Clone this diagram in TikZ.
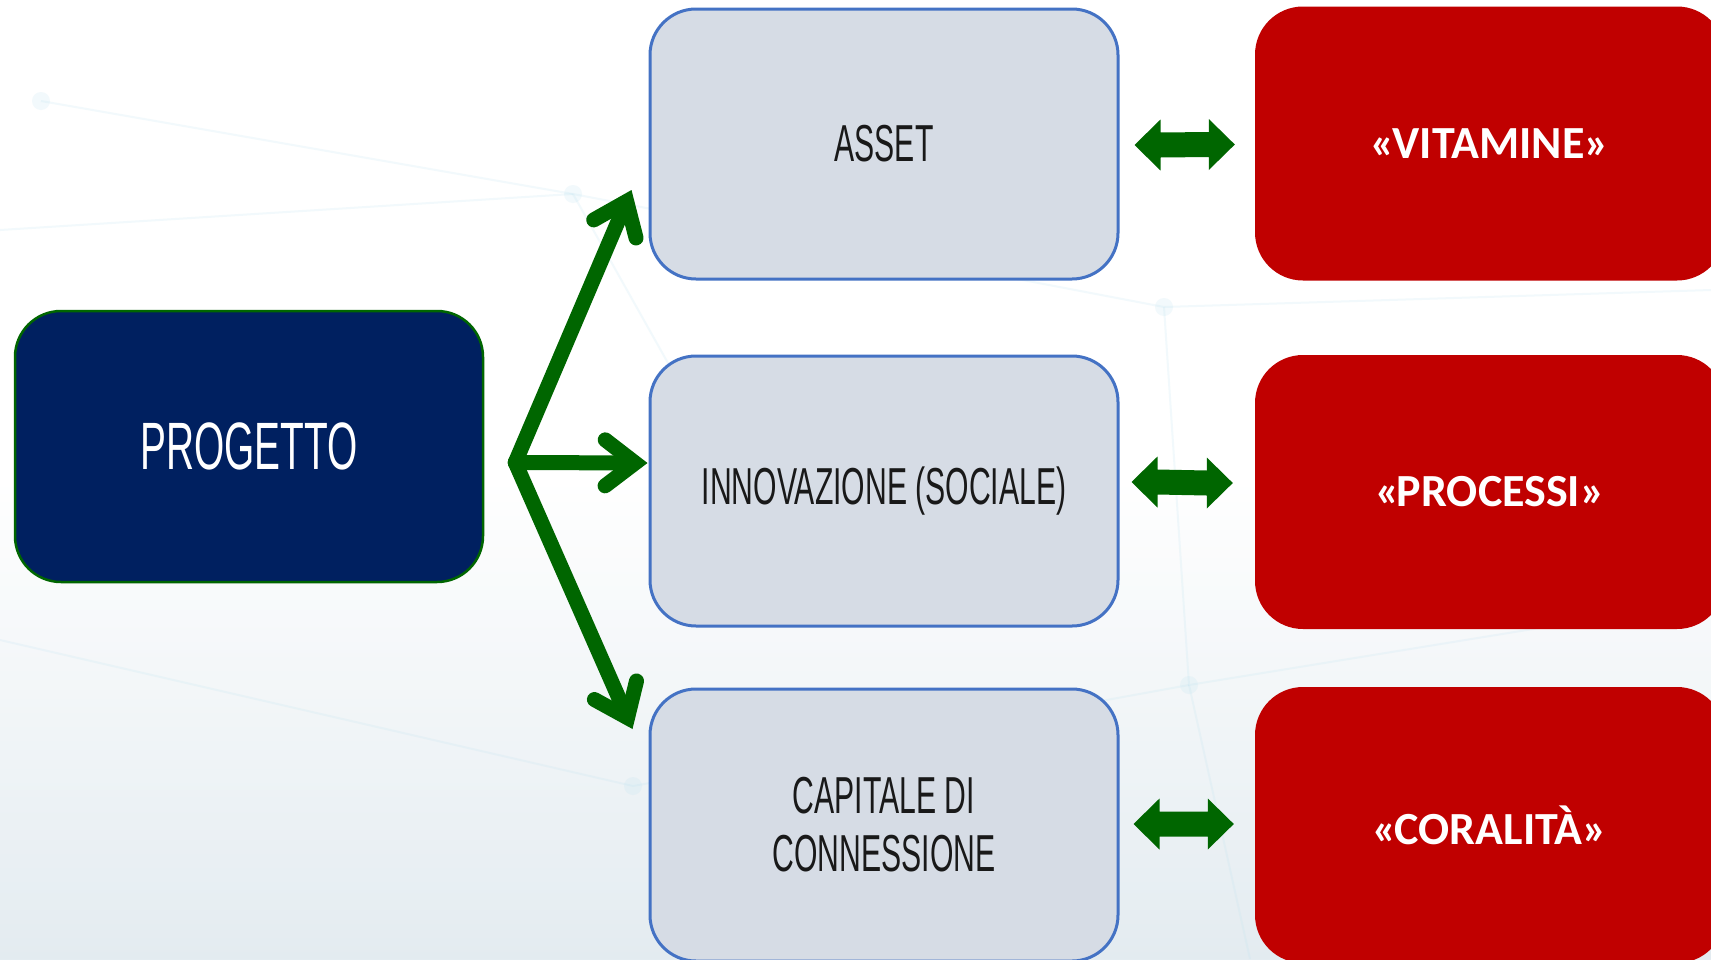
\documentclass[tikz,border=0pt]{standalone}
\usepackage{fontspec}
\usetikzlibrary{arrows.meta,calc}
\newfontfamily\condfont{Liberation Sans}[FakeStretch=0.58]
\newfontfamily\carlito{Carlito}
\definecolor{navy}{HTML}{002060}
\definecolor{boxgray}{HTML}{D6DCE5}
\definecolor{boxblue}{HTML}{4472C4}
\definecolor{darkred}{HTML}{C00000}
\definecolor{arrgreen}{HTML}{006600}
\definecolor{bgblue}{HTML}{DDE7ED}
\definecolor{netblue}{HTML}{BFE3F0}
\tikzset{
  projbox/.style={rounded corners=46pt, fill=navy, draw=arrgreen, line width=2.5pt,
    minimum width=468pt, minimum height=271pt, text=white, inner sep=0pt,
    font=\condfont\fontsize{67}{72}\selectfont},
  graybox/.style={rounded corners=46pt, fill=boxgray, draw=boxblue, line width=3pt,
    minimum width=468pt, minimum height=270pt, text=black!90, inner sep=0pt, align=center,
    font=\condfont\fontsize{52}{58}\selectfont},
  redbox/.style={rounded corners=48pt, fill=darkred, draw=none,
    minimum width=470pt, minimum height=274pt, text=white, inner sep=0pt,
    font=\carlito\bfseries\fontsize{46}{50}\selectfont},
  forkarrow/.style={draw=arrgreen, line width=15pt, line cap=round, line join=miter,
    -{Straight Barb[length=30pt,width=46pt,line cap=round,line join=miter]}},
  netline/.style={draw=netblue, line width=2pt, opacity=0.2},
}
\newcommand\dblarr[2]{%
  \fill[arrgreen] (#1) -- ++(26,-25.5) -- ++(0,13) -- ($(#2)+(-26,-12.5)$) -- ++(0,-13)
    -- (#2) -- ++(-26,25.5) -- ++(0,-13) -- ($(#1)+(26,12.5)$) -- ++(0,13) -- cycle;}
\begin{document}
\begin{tikzpicture}[x=1pt,y=-1pt]
\useasboundingbox (0,0) rectangle (1711,959);
\fill[white] (0,0) rectangle (1711,959);
% faint background
\shade[top color=white, bottom color=bgblue, opacity=0.8] (0,480) rectangle (1711,959);
\path[netline] (41,101) -- (573,194) -- (1164,307) -- (1711,290);
\path[netline] (0,230) -- (573,194);
\path[netline] (573,194) -- (700,420);
\path[netline] (1164,307) -- (1189,685) -- (1711,600);
\path[netline] (0,640) -- (633,786) -- (1189,685);
\path[netline] (1189,685) -- (1250,959);
\foreach \p in {(41,101),(573,194),(1164,307),(1189,685),(633,786)}
  \fill[netblue, opacity=0.2] \p circle (9);

% nodes
\node[projbox] (proj) at (249,446.5) {PROGETTO};
\node[graybox] (asset) at (884,144) {ASSET};
\node[graybox] (innov) at (884,491) {INNOVAZIONE (SOCIALE)};
\node[graybox, minimum height=272pt] (cap) at (884,825) {CAPITALE DI\\CONNESSIONE};
\node[redbox] (vit) at (1490,143.5) {«\kern-3pt VITAMINE»};
\node[redbox] (proc) at (1490,492) {«\kern-3pt PROCESSI»};
\node[redbox, minimum height=276pt] (cor) at (1490,825) {«\kern-3pt CORALITÀ»};

% fork arrows
\coordinate (fork) at ($(proj.east)+(31,16)$);
\coordinate (t1) at ($(asset.west)+(-17,46)$);
\coordinate (t2) at ($(innov.west)+(-1,-28)$);
\coordinate (t3) at ($(cap.west)+(-16,-96)$);
\draw[forkarrow] (fork) -- (t1);
\draw[forkarrow] (fork) -- (t2);
\draw[forkarrow] (fork) -- (t3);

% double arrows
\coordinate (l1) at ($(asset.east)+(15,1)$);
\coordinate (r1) at ($(vit.west)+(-20,1)$);
\coordinate (l2) at ($(innov.east)+(12,-9)$);
\coordinate (r2) at ($(proc.west)+(-22,-9)$);
\coordinate (l3) at ($(cap.east)+(14,-1)$);
\coordinate (r3) at ($(cor.west)+(-21,-1)$);
\dblarr{l1}{r1}
\dblarr{l2}{r2}
\dblarr{l3}{r3}
\end{tikzpicture}
\end{document}
